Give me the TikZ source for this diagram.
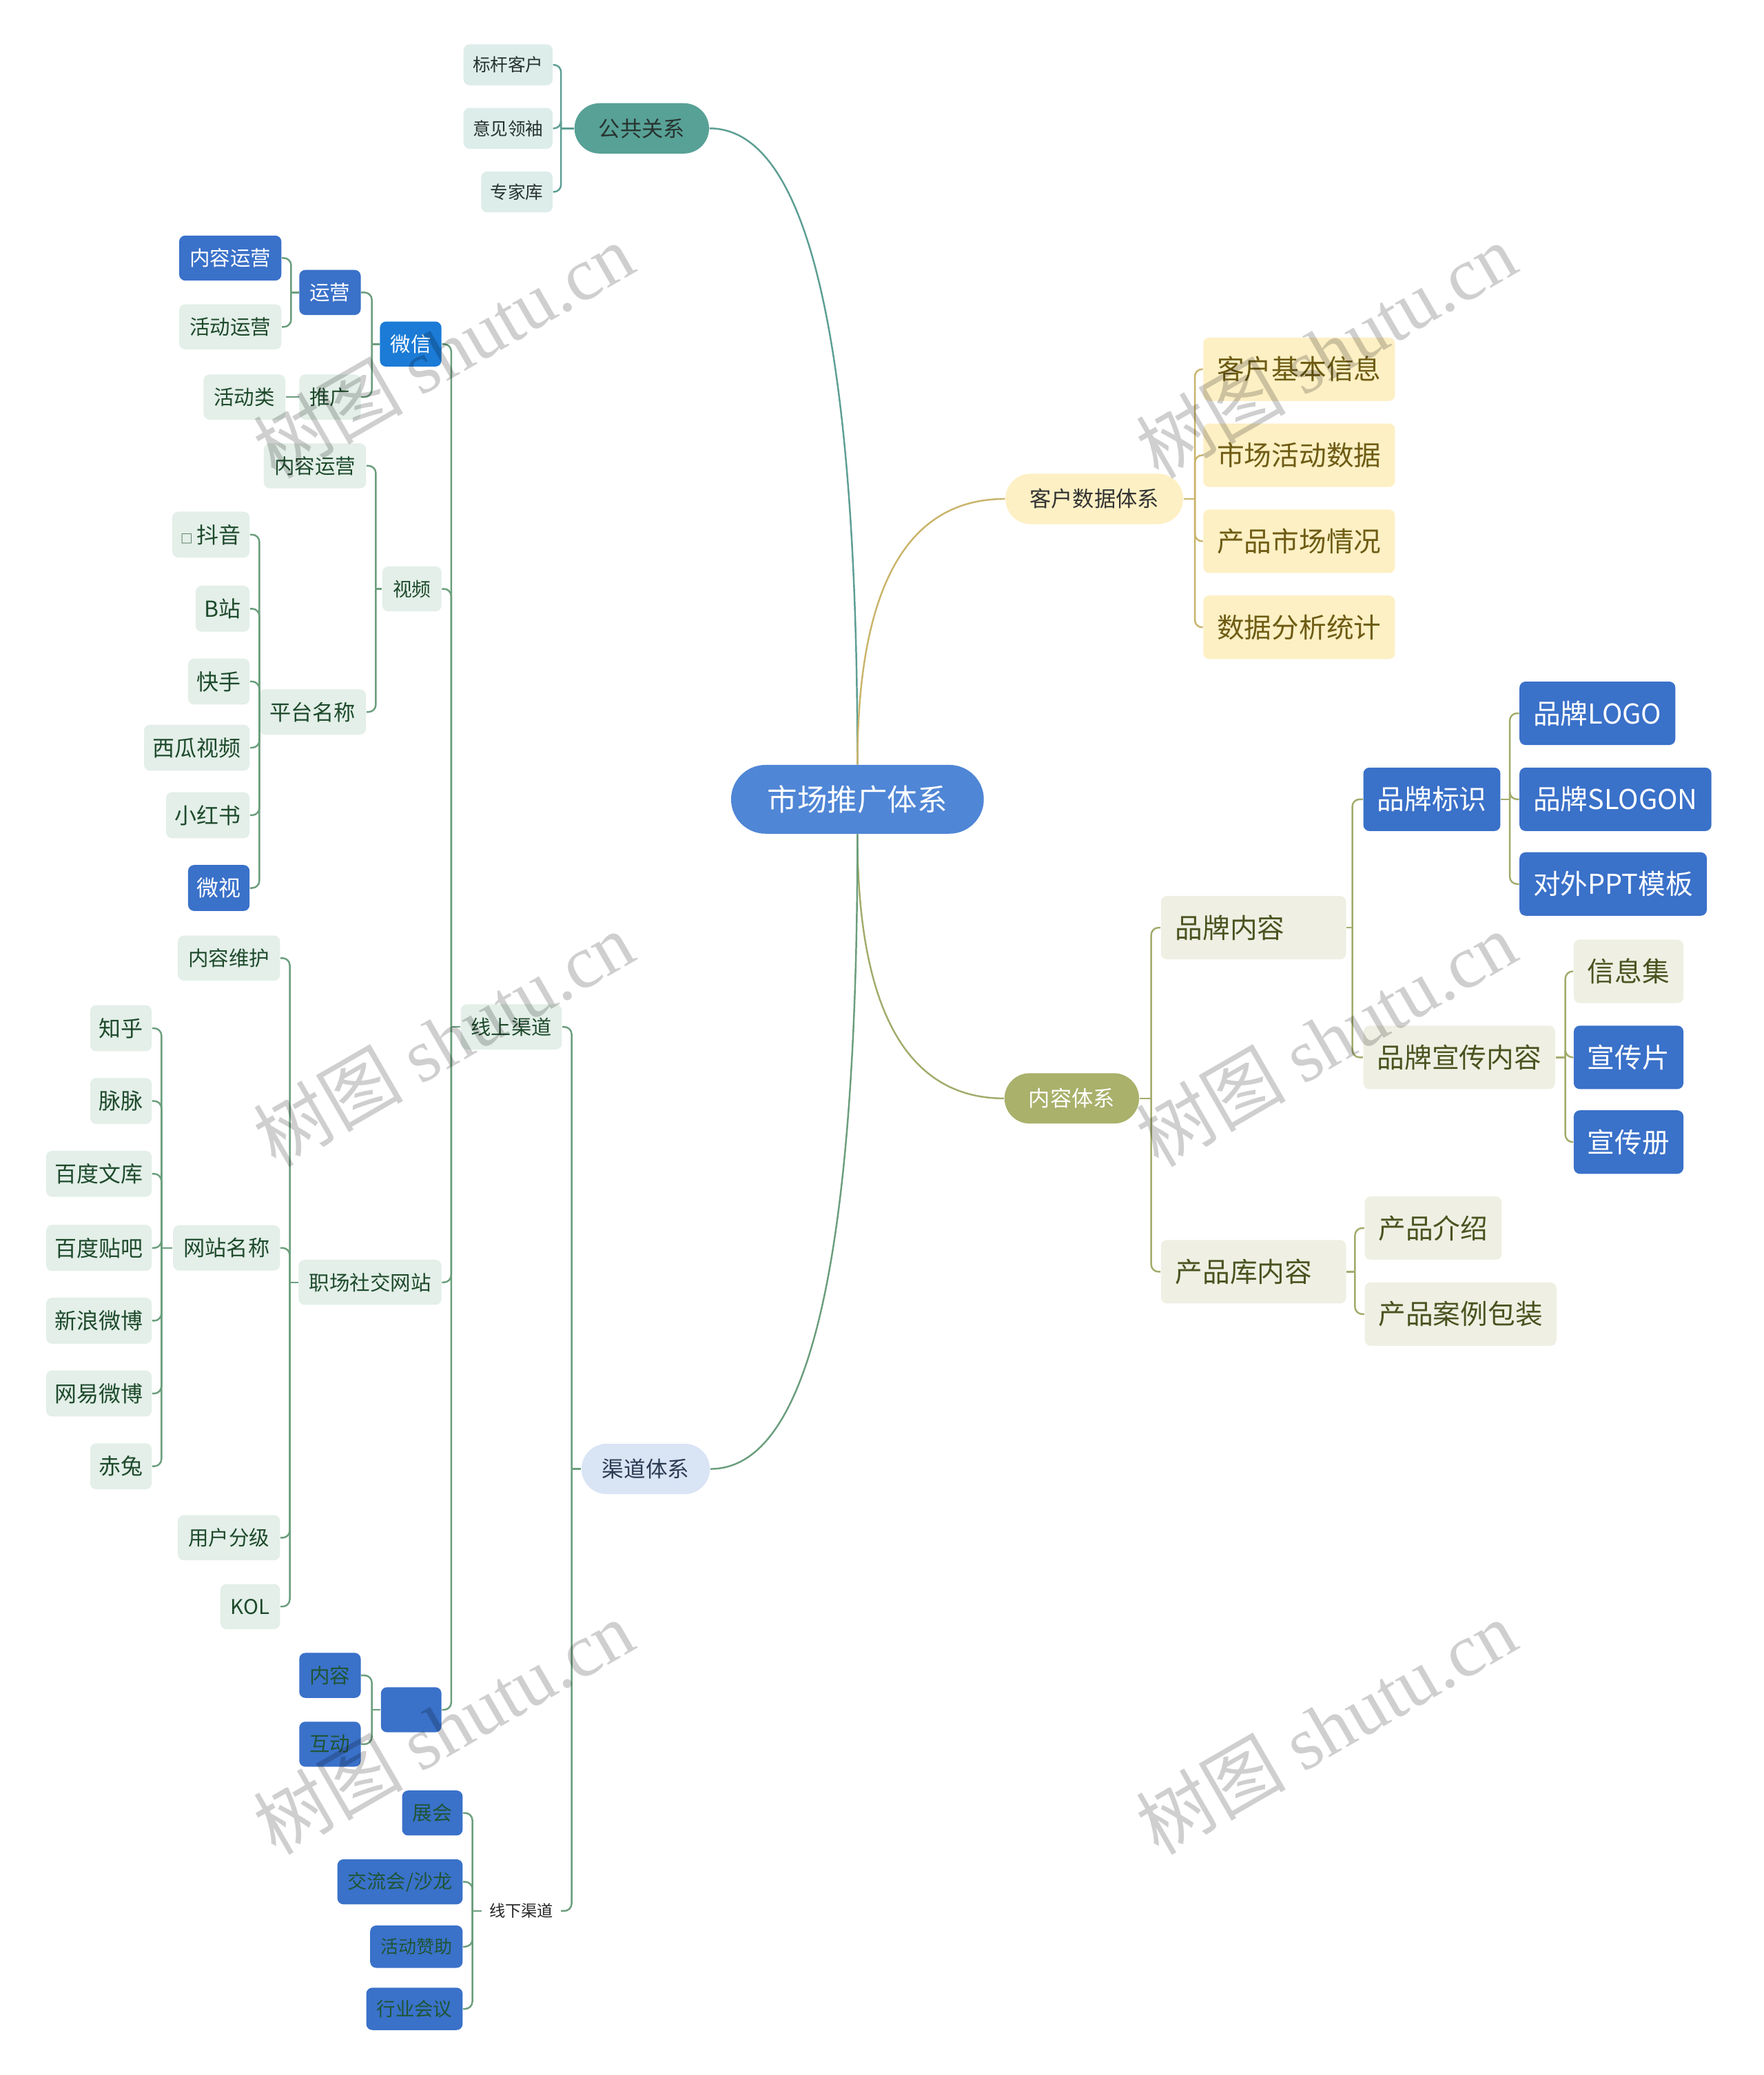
\documentclass[tikz,border=0pt]{standalone}
\usepackage{fontspec}
\setmainfont{Noto Sans CJK SC}
\newfontfamily\wmlatin{Liberation Serif}

\definecolor{rootblue}{HTML}{4F86D6}
\definecolor{prteal}{HTML}{58A196}
\definecolor{prlight}{HTML}{DDEDEA}
\definecolor{prtext}{HTML}{27332F}
\definecolor{prline}{HTML}{5C9E93}
\definecolor{khfill}{HTML}{FDF0C4}
\definecolor{khtext}{HTML}{6E5C14}
\definecolor{khline}{HTML}{C9B46A}
\definecolor{nrfill}{HTML}{A9B16B}
\definecolor{nrlight}{HTML}{EFF0E3}
\definecolor{nrtext}{HTML}{4A5320}
\definecolor{nrline}{HTML}{A3AB6B}
\definecolor{qdfill}{HTML}{D9E4F5}
\definecolor{qdtext}{HTML}{2C3B52}
\definecolor{qdlight}{HTML}{E3EFE8}
\definecolor{qdleaf}{HTML}{1E4A2C}
\definecolor{qdline}{HTML}{6A9E7C}
\definecolor{boxblue}{HTML}{3A71C9}
\definecolor{wxblue}{HTML}{1B7BD6}
\definecolor{darkgreen}{HTML}{1F5535}

\tikzset{
  lk/.style={line width=0.7pt, rounded corners=3pt},
  pill/.style={rounded corners=10.4pt, minimum height=20.8pt, inner xsep=10pt, inner ysep=0pt,
    font=\fontsize{8.9}{10}\selectfont},
  big/.style={rounded corners=2.5pt, minimum height=26.2pt, inner xsep=5.7pt, inner ysep=0pt,
    font=\fontsize{11.3}{13}\selectfont},
  khleaf/.style={big, fill=khfill, text=khtext},
  nrleaf/.style={big, fill=nrlight, text=nrtext},
  nrblue/.style={big, fill=boxblue, text=white},
  leaf/.style={rounded corners=2.5pt, minimum height=18.6pt, inner xsep=4.3pt, inner ysep=0pt,
    fill=qdlight, text=qdleaf},
  prleaf/.style={leaf, fill=prlight, text=prtext, minimum height=16.9pt, inner xsep=3.8pt,
    font=\fontsize{7.3}{9}\selectfont},
  wleaf/.style={leaf, minimum height=19pt, inner xsep=3.6pt, font=\fontsize{9.1}{10}\selectfont},
  blue/.style={fill=boxblue, text=white},
  dblue/.style={fill=boxblue, text=darkgreen},
  wm/.style={rotate=30, text=black, text opacity=0.19, font=\fontsize{31}{34}\selectfont}
}

\begin{document}
\begin{tikzpicture}[x=0.019205cm, y=-0.019205cm, font=\fontsize{8.4}{10}\selectfont]
  \fill[white] (0,0) rectangle (1333,1568);
  \useasboundingbox (0,0) rectangle (1333,1568);

  % centre
  \node[pill, fill=rootblue, text=white, rounded corners=14.2pt, minimum height=28.4pt,
    inner xsep=15pt, font=\fontsize{12.4}{14}\selectfont] (root) at (648,604) {市场推广体系};

  % 公共关系
  \node[pill, fill=prteal, text=prtext] (pr) at (485,97) {公共关系};
  \node[prleaf, anchor=east] (pr1) at (418,49) {标杆客户};
  \node[prleaf, anchor=east] (pr2) at (418,97) {意见领袖};
  \node[prleaf, anchor=east] (pr3) at (418,145) {专家库};
  \draw[lk, prline] (pr.west) -- (424,97) coordinate (prJ);
  \foreach \c in {pr1,pr2,pr3} \draw[lk, prline] (prJ) |- (\c.east);

  % 客户数据体系
  \node[pill, fill=khfill, text=black!80] (kh) at (827,377) {客户数据体系};
  \node[khleaf, anchor=west] (kh1) at (909,279) {客户基本信息};
  \node[khleaf, anchor=west] (kh2) at (909,344) {市场活动数据};
  \node[khleaf, anchor=west] (kh3) at (909,409) {产品市场情况};
  \node[khleaf, anchor=west] (kh4) at (909,474) {数据分析统计};
  \draw[lk, khline] (kh.east) -- (903,377) coordinate (khJ);
  \foreach \c in {kh1,kh2,kh3,kh4} \draw[lk, khline] (khJ) |- (\c.west);

  % 内容体系
  \node[pill, fill=nrfill, text=white] (nr) at (810,830) {内容体系};
  \node[nrleaf, anchor=west, text width=64.5pt, inner xsep=6pt, align=left] (nr1) at (877,701) {品牌内容};
  \node[nrleaf, anchor=west, text width=64.5pt, inner xsep=6pt, align=left] (nr2) at (877,961) {产品库内容};
  \draw[lk, nrline] (nr.east) -- (870,830) coordinate (nrJ);
  \foreach \c in {nr1,nr2} \draw[lk, nrline] (nrJ) |- (\c.west);

  \node[nrblue, anchor=west] (pp1) at (1030,604) {品牌标识};
  \node[nrleaf, anchor=west] (pp2) at (1030,799) {品牌宣传内容};
  \draw[lk, nrline] (nr1.east) -- (1022,701) coordinate (ppJ);
  \foreach \c in {pp1,pp2} \draw[lk, nrline] (ppJ) |- (\c.west);

  \node[nrblue, anchor=west] (pl1) at (1148,539) {品牌LOGO};
  \node[nrblue, anchor=west] (pl2) at (1148,604) {品牌SLOGON};
  \node[nrblue, anchor=west] (pl3) at (1148,668) {对外PPT模板};
  \draw[lk, nrline] (pp1.east) -- (1141,604) coordinate (plJ);
  \foreach \c in {pl1,pl2,pl3} \draw[lk, nrline] (plJ) |- (\c.west);

  \node[nrleaf, anchor=west] (xc1) at (1189,734) {信息集};
  \node[nrblue, anchor=west] (xc2) at (1189,799) {宣传片};
  \node[nrblue, anchor=west] (xc3) at (1189,863) {宣传册};
  \draw[lk, nrline] (pp2.east) -- (1183,799) coordinate (xcJ);
  \foreach \c in {xc1,xc2,xc3} \draw[lk, nrline] (xcJ) |- (\c.west);

  \node[nrleaf, anchor=west] (cp1) at (1031,928) {产品介绍};
  \node[nrleaf, anchor=west] (cp2) at (1031,993) {产品案例包装};
  \draw[lk, nrline] (nr2.east) -- (1024,961) coordinate (cpJ);
  \foreach \c in {cp1,cp2} \draw[lk, nrline] (cpJ) |- (\c.west);

  % 渠道体系
  \node[pill, fill=qdfill, text=qdtext, inner xsep=8.5pt, font=\fontsize{9}{10}\selectfont] (qd) at (488,1110) {渠道体系};
  \node[leaf, anchor=east, font=\fontsize{8.3}{10}\selectfont] (xs) at (425,776) {线上渠道};
  \node[anchor=east, inner xsep=3pt, text=black!85, font=\fontsize{6.6}{8}\selectfont] (xx) at (424,1444) {线下渠道};
  \draw[lk, qdline] (qd.west) -- (432,1110) coordinate (qdJ);
  \foreach \c in {xs,xx} \draw[lk, qdline] (qdJ) |- (\c.east);

  % 线上渠道
  \node[leaf, fill=wxblue, text=white, anchor=east] (wx) at (334,260) {微信};
  \node[leaf, anchor=east, font=\fontsize{7.9}{10}\selectfont] (sp) at (334,445) {视频};
  \node[leaf, anchor=east] (zc) at (334,969) {职场社交网站};
  \node[leaf, blue, anchor=east, minimum width=25pt] (kb) at (334,1292) {};
  \draw[lk, qdline] (xs.west) -- (341,776) coordinate (xsJ);
  \foreach \c in {wx,sp,zc,kb} \draw[lk, qdline] (xsJ) |- (\c.east);

  % 微信
  \node[leaf, blue, anchor=east] (yy) at (273,221) {运营};
  \node[leaf, anchor=east] (tg) at (273,300) {推广};
  \draw[lk, qdline] (wx.west) -- (281,260) coordinate (wxJ);
  \foreach \c in {yy,tg} \draw[lk, qdline] (wxJ) |- (\c.east);
  \node[leaf, blue, anchor=east] (yy1) at (213,195) {内容运营};
  \node[leaf, anchor=east] (yy2) at (213,247) {活动运营};
  \draw[lk, qdline] (yy.west) -- (220,221) coordinate (yyJ);
  \foreach \c in {yy1,yy2} \draw[lk, qdline] (yyJ) |- (\c.east);
  \node[leaf, anchor=east] (tg1) at (216,300) {活动类};
  \draw[lk, qdline] (tg.west) -- (tg1.east);

  % 视频
  \node[leaf, anchor=east] (sp1) at (277,352) {内容运营};
  \node[leaf, anchor=east, font=\fontsize{8.9}{10}\selectfont] (sp2) at (277,538) {平台名称};
  \draw[lk, qdline] (sp.west) -- (284,445) coordinate (spJ);
  \foreach \c in {sp1,sp2} \draw[lk, qdline] (spJ) |- (\c.east);
  \node[wleaf, anchor=east] (pt1) at (189,404) {{\fontsize{5}{6}\selectfont □}\,抖音};
  \node[wleaf, anchor=east] (pt2) at (189,460) {B站};
  \node[wleaf, anchor=east] (pt3) at (189,515) {快手};
  \node[wleaf, anchor=east] (pt4) at (189,565) {西瓜视频};
  \node[wleaf, anchor=east] (pt5) at (189,616) {小红书};
  \node[wleaf, blue, anchor=east] (pt6) at (189,671) {微视};
  \draw[lk, qdline] (sp2.west) -- (196,538) coordinate (ptJ);
  \foreach \c in {pt1,pt2,pt3,pt4,pt5,pt6} \draw[lk, qdline] (ptJ) |- (\c.east);

  % 职场社交网站
  \node[leaf, anchor=east] (zc1) at (212,724) {内容维护};
  \node[leaf, anchor=east, font=\fontsize{8.9}{10}\selectfont] (zc2) at (212,943) {网站名称};
  \node[leaf, anchor=east] (zc3) at (212,1162) {用户分级};
  \node[leaf, anchor=east] (zc4) at (212,1214) {KOL};
  \draw[lk, qdline] (zc.west) -- (219,969) coordinate (zcJ);
  \foreach \c in {zc1,zc2,zc3,zc4} \draw[lk, qdline] (zcJ) |- (\c.east);
  \node[wleaf, anchor=east] (wz1) at (115,777) {知乎};
  \node[wleaf, anchor=east] (wz2) at (115,832) {脉脉};
  \node[wleaf, anchor=east] (wz3) at (115,887) {百度文库};
  \node[wleaf, anchor=east] (wz4) at (115,943) {百度贴吧};
  \node[wleaf, anchor=east] (wz5) at (115,998) {新浪微博};
  \node[wleaf, anchor=east] (wz6) at (115,1053) {网易微博};
  \node[wleaf, anchor=east] (wz7) at (115,1108) {赤兔};
  \draw[lk, qdline] (zc2.west) -- (122,943) coordinate (wzJ);
  \foreach \c in {wz1,wz2,wz3,wz4,wz5,wz6,wz7} \draw[lk, qdline] (wzJ) |- (\c.east);

  % unnamed blue box
  \node[leaf, dblue, anchor=east] (kb1) at (273,1266) {内容};
  \node[leaf, dblue, anchor=east] (kb2) at (273,1318) {互动};
  \draw[lk, qdline] (kb.west) -- (281,1292) coordinate (kbJ);
  \foreach \c in {kb1,kb2} \draw[lk, qdline] (kbJ) |- (\c.east);

  % 线下渠道
  \node[leaf, dblue, anchor=east, font=\fontsize{8.2}{10}\selectfont] (xx1) at (350,1370) {展会};
  \node[leaf, dblue, anchor=east, font=\fontsize{8}{10}\selectfont] (xx2) at (350,1422) {交流会/沙龙};
  \node[leaf, dblue, anchor=east, minimum height=17.5pt, font=\fontsize{7.4}{9}\selectfont] (xx3) at (350,1471) {活动赞助};
  \node[leaf, dblue, anchor=east, minimum height=17.5pt, font=\fontsize{7.8}{9}\selectfont] (xx4) at (350,1518) {行业会议};
  \draw[lk, qdline] (xx.west) -- (357,1444) coordinate (xxJ);
  \foreach \c in {xx1,xx2,xx3,xx4} \draw[lk, qdline] (xxJ) |- (\c.east);

  % main branches
  \draw[line width=0.7pt, prline] (root.north) .. controls +(0,-321) and +(74,0) .. (pr.east);
  \draw[line width=0.7pt, khline] (root.north) .. controls +(0,-134) and +(-74,0) .. (kh.west);
  \draw[line width=0.7pt, nrline] (root.south) .. controls +(0,133) and +(-73,0) .. (nr.west);
  \draw[line width=0.7pt, qdline] (root.south) .. controls +(0,320) and +(75,0) .. (qd.east);

  % watermark
  \foreach \wx/\wy [count=\i] in {335/265, 335/785, 335/1305, 1002/265, 1002/785, 1002/1305}
    \node[wm] (wm\i) at (\wx,\wy) {树图 {\wmlatin shutu.cn}};
\end{tikzpicture}
\end{document}
